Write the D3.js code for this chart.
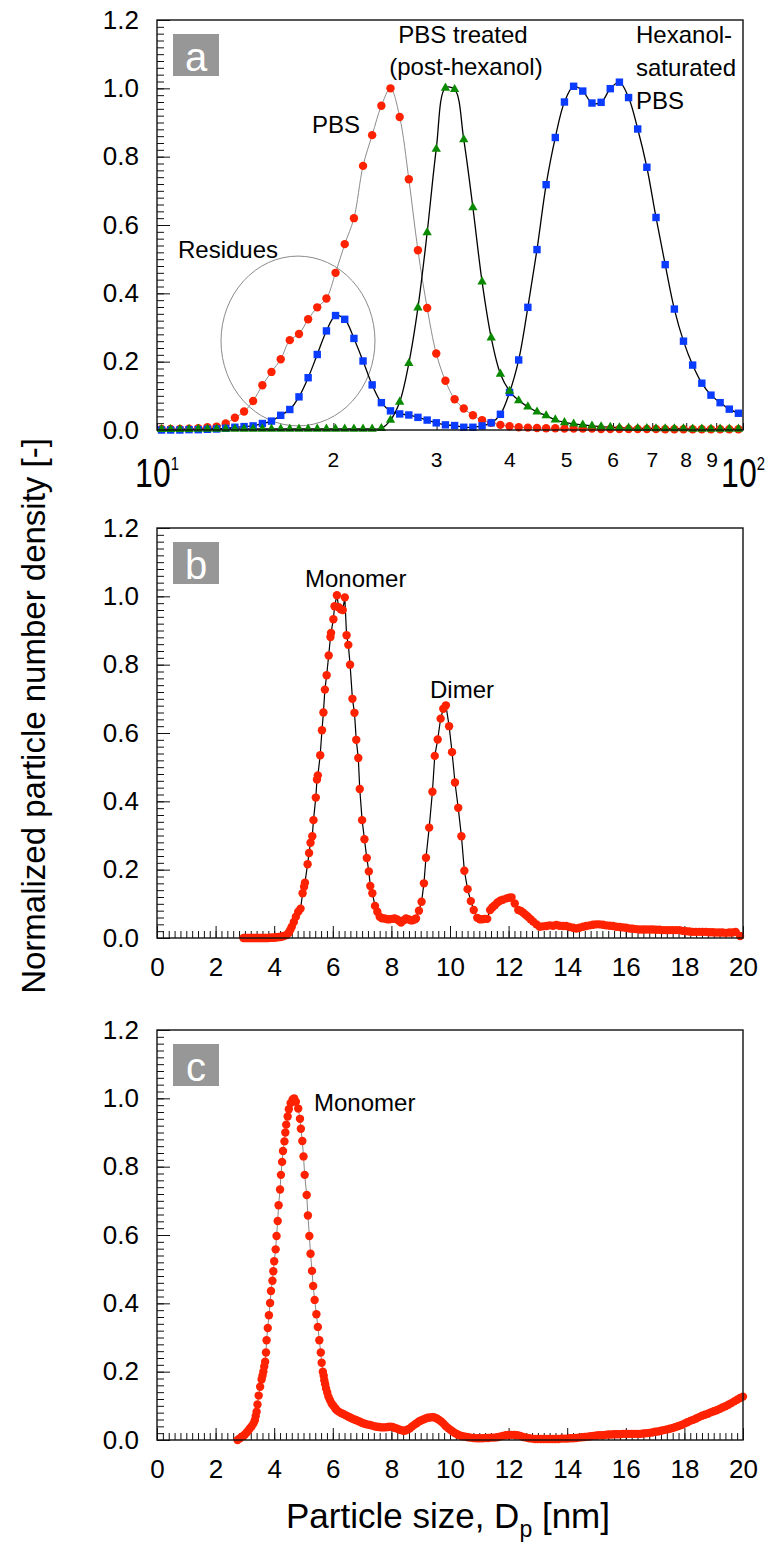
<!DOCTYPE html>
<html><head><meta charset="utf-8">
<script src="https://cdn.jsdelivr.net/npm/d3@7"></script>
<style>
body{margin:0;background:#fff}
svg{display:block}
text{font-family:"Liberation Sans",Arial,Helvetica,sans-serif;fill:#000}
</style>
</head><body>
<svg id="chart" width="772" height="1565"></svg>
<script>
// ---------------- DATA ----------------
// Panel a: SMPS channel diameters (nm) shared by all three series
const sizesA = [10.18,10.55,10.94,11.34,11.76,12.19,12.64,13.10,13.58,14.08,14.59,15.13,15.68,16.26,16.85,17.47,18.11,18.77,19.46,20.17,20.91,21.68,22.47,23.29,24.15,25.03,25.95,26.90,27.88,28.91,29.96,31.06,32.20,33.38,34.60,35.87,37.18,38.55,39.96,41.42,42.94,44.51,46.14,47.83,49.58,51.40,53.28,55.24,57.26,59.36,61.53,63.79,66.12,68.54,71.05,73.66,76.36,79.15,82.05,85.06,88.17,91.40,94.75,98.22];
const pbsA = [0.003,0.003,0.003,0.004,0.005,0.008,0.010,0.019,0.036,0.054,
  0.085,0.131,0.170,0.207,0.263,0.281,0.324,0.359,0.385,0.460,
  0.544,0.620,0.773,0.863,0.949,1.000,0.916,0.734,0.526,0.357,
  0.224,0.144,0.090,0.063,0.043,0.029,0.021,0.015,0.011,0.008,
  0.007,0.006,0.005,0.005,0.004,0.004,0.004,0.004,0.003,0.003,
  0.003,0.003,0.003,0.003,0.003,0.002,0.002,0.002,0.002,0.002,
  0.002,0.002,0.002,0.002];
const hexanolA = [0.000,0.000,0.000,0.001,0.001,0.002,0.003,0.005,0.008,0.010,
  0.012,0.019,0.026,0.043,0.060,0.097,0.153,0.221,0.290,0.335,
  0.324,0.268,0.202,0.132,0.080,0.056,0.047,0.044,0.037,0.029,
  0.021,0.015,0.013,0.008,0.008,0.012,0.021,0.046,0.110,0.205,
  0.359,0.528,0.718,0.856,0.960,1.006,0.992,0.957,0.959,0.999,
  1.018,0.973,0.881,0.769,0.622,0.484,0.354,0.260,0.190,0.137,
  0.102,0.080,0.061,0.049];
const treatedA = [0.002,0.002,0.002,0.002,0.003,0.003,0.003,0.003,0.003,0.003,
  0.003,0.003,0.003,0.003,0.003,0.003,0.003,0.003,0.003,0.003,
  0.003,0.003,0.003,0.003,0.005,0.029,0.082,0.195,0.358,0.578,
  0.822,1.001,0.997,0.850,0.651,0.434,0.270,0.164,0.114,0.086,
  0.068,0.053,0.042,0.030,0.022,0.018,0.015,0.012,0.010,0.008,
  0.007,0.006,0.005,0.005,0.004,0.004,0.004,0.004,0.003,0.003,
  0.003,0.003,0.003,0.003];

// Panel b: [diameter nm, normalized density]
const panelB = [[2.95,0],[3.00,0],[3.05,0],[3.10,0],[3.15,0],[3.20,0],[3.25,0],[3.30,0],[3.35,0],[3.40,0],
 [3.45,0],[3.50,0],[3.55,0],[3.60,0],[3.65,0],[3.70,0],[3.75,0],[3.80,0],[3.85,0.001],[3.90,0.001],
 [3.95,0.001],[4.00,0.001],[4.05,0.002],[4.10,0.002],[4.15,0.003],[4.20,0.003],[4.25,0.004],[4.30,0.005],[4.36,0.007],
 [4.43,0.009],[4.50,0.016],[4.55,0.024],[4.60,0.033],[4.67,0.047],[4.74,0.062],[4.82,0.077],[4.90,0.086],[4.97,0.131],[5.02,0.150],
 [5.05,0.162],[5.14,0.216],[5.19,0.249],[5.24,0.279],[5.30,0.298],[5.34,0.345],[5.42,0.411],[5.46,0.464],[5.49,0.476],[5.57,0.535],
 [5.63,0.608],[5.68,0.660],[5.73,0.727],[5.79,0.769],[5.86,0.827],[5.92,0.881],[5.94,0.893],[6.02,0.933],[6.06,0.971],[6.14,1.003],
 [6.20,0.968],[6.27,0.962],[6.34,0.960],[6.41,0.997],[6.47,0.886],[6.53,0.858],[6.59,0.800],[6.67,0.700],[6.74,0.659],[6.80,0.580],
 [6.87,0.527],[6.92,0.436],[7.00,0.345],[7.08,0.289],[7.16,0.234],[7.23,0.195],[7.28,0.152],[7.35,0.131],[7.44,0.094],[7.52,0.077],
 [7.60,0.062],[7.68,0.058],[7.77,0.057],[7.86,0.055],[7.94,0.055],[8.03,0.056],[8.11,0.057],[8.20,0.054],[8.27,0.050],[8.33,0.045],
 [8.42,0.052],[8.50,0.057],[8.58,0.055],[8.66,0.052],[8.72,0.052],[8.80,0.055],[8.84,0.057],[8.94,0.080],[9.03,0.106],[9.11,0.160],
 [9.18,0.235],[9.29,0.323],[9.40,0.428],[9.48,0.533],[9.58,0.581],[9.68,0.642],[9.77,0.671],[9.86,0.681],[9.97,0.620],[10.07,0.544],
 [10.17,0.455],[10.28,0.381],[10.39,0.298],[10.49,0.197],[10.60,0.143],[10.71,0.108],[10.81,0.082],[10.93,0.059],[11.02,0.055],[11.10,0.055],
 [11.18,0.056],[11.27,0.056],[11.37,0.082],[11.45,0.090],[11.53,0.096],[11.62,0.104],[11.71,0.109],[11.80,0.112],[11.93,0.116],[12.02,0.118],
 [12.10,0.119],[12.21,0.101],[12.33,0.082],[12.42,0.079],[12.50,0.074],[12.58,0.068],[12.66,0.062],[12.75,0.055],[12.84,0.048],[12.95,0.040],
 [13.06,0.033],[13.17,0.034],[13.29,0.035],[13.40,0.037],[13.52,0.036],[13.63,0.038],[13.74,0.036],[13.86,0.035],[13.97,0.035],[14.08,0.032],
 [14.20,0.030],[14.31,0.028],[14.42,0.030],[14.54,0.033],[14.65,0.035],[14.77,0.037],[14.88,0.039],[14.99,0.040],[15.10,0.040],[15.22,0.039],
 [15.33,0.037],[15.45,0.036],[15.56,0.035],[15.67,0.033],[15.79,0.032],[15.90,0.031],[16.01,0.030],[16.13,0.028],[16.24,0.027],[16.35,0.026],
 [16.47,0.025],[16.58,0.025],[16.69,0.025],[16.81,0.025],[16.92,0.025],[17.03,0.024],[17.15,0.024],[17.26,0.023],[17.37,0.023],[17.49,0.023],
 [17.60,0.023],[17.71,0.023],[17.83,0.023],[17.94,0.021],[18.05,0.020],[18.17,0.019],[18.28,0.018],[18.39,0.018],[18.51,0.018],[18.62,0.018],
 [18.73,0.018],[18.85,0.017],[18.96,0.017],[19.07,0.016],[19.19,0.016],[19.30,0.016],[19.41,0.015],[19.53,0.016],[19.64,0.016],[19.75,0.018],
 [19.90,0.006]];

// Panel c: [diameter nm, normalized density]
const panelC = [[2.75,0.000],[2.83,0.005],[2.90,0.010],[2.95,0.012],[3.00,0.016],[3.06,0.022],[3.12,0.028],[3.17,0.034],[3.23,0.040],[3.29,0.048],
 [3.34,0.058],[3.37,0.070],[3.40,0.083],[3.43,0.104],[3.47,0.130],[3.52,0.156],[3.57,0.177],[3.60,0.188],[3.63,0.200],[3.66,0.215],
 [3.69,0.229],[3.72,0.256],[3.74,0.292],[3.78,0.328],[3.82,0.365],[3.86,0.401],[3.89,0.436],[3.94,0.466],[3.97,0.494],[4.00,0.523],
 [4.05,0.558],[4.08,0.597],[4.12,0.641],[4.15,0.687],[4.20,0.733],[4.23,0.776],[4.27,0.814],[4.30,0.846],[4.35,0.874],[4.38,0.900],
 [4.41,0.923],[4.46,0.947],[4.50,0.968],[4.56,0.986],[4.63,0.997],[4.68,1.000],[4.74,0.990],[4.82,0.970],[4.88,0.940],[4.91,0.911],
 [4.96,0.875],[5.00,0.830],[5.04,0.776],[5.11,0.717],[5.15,0.657],[5.20,0.597],[5.24,0.545],[5.29,0.495],[5.33,0.451],[5.38,0.410],
 [5.44,0.368],[5.49,0.331],[5.54,0.292],[5.59,0.256],[5.62,0.226],[5.66,0.200],[5.69,0.188],[5.71,0.175],[5.74,0.163],[5.77,0.151],
 [5.81,0.139],[5.85,0.127],[5.90,0.117],[5.96,0.107],[6.02,0.100],[6.08,0.093],[6.13,0.088],[6.20,0.083],[6.28,0.079],[6.36,0.076],
 [6.45,0.072],[6.52,0.069],[6.59,0.066],[6.66,0.063],[6.74,0.060],[6.81,0.058],[6.89,0.055],[6.96,0.052],[7.04,0.049],[7.12,0.047],
 [7.20,0.045],[7.27,0.044],[7.35,0.042],[7.43,0.040],[7.50,0.039],[7.58,0.038],[7.65,0.037],[7.72,0.037],[7.80,0.037],[7.87,0.038],
 [7.95,0.039],[8.03,0.038],[8.10,0.036],[8.18,0.034],[8.26,0.031],[8.33,0.029],[8.41,0.027],[8.48,0.028],[8.56,0.031],[8.63,0.034],
 [8.71,0.040],[8.79,0.045],[8.86,0.049],[8.94,0.054],[9.01,0.057],[9.09,0.060],[9.17,0.063],[9.24,0.065],[9.32,0.066],[9.40,0.067],
 [9.47,0.066],[9.55,0.063],[9.62,0.059],[9.70,0.054],[9.78,0.048],[9.85,0.041],[9.93,0.035],[10.01,0.030],[10.09,0.025],[10.18,0.020],
 [10.26,0.016],[10.34,0.013],[10.43,0.011],[10.52,0.010],[10.61,0.008],[10.70,0.007],[10.80,0.006],[10.90,0.005],[11.00,0.005],[11.10,0.005],
 [11.20,0.006],[11.30,0.006],[11.40,0.007],[11.50,0.007],[11.60,0.008],[11.70,0.010],[11.80,0.012],[11.90,0.014],[12.00,0.015],[12.10,0.015],
 [12.20,0.015],[12.30,0.014],[12.40,0.012],[12.50,0.009],[12.60,0.007],[12.70,0.005],[12.80,0.004],[12.90,0.003],[13.00,0.003],[13.10,0.003],
 [13.20,0.003],[13.30,0.003],[13.40,0.003],[13.50,0.003],[13.60,0.003],[13.70,0.003],[13.80,0.004],[13.90,0.004],[14.00,0.004],[14.10,0.005],
 [14.20,0.005],[14.30,0.006],[14.40,0.007],[14.50,0.008],[14.60,0.009],[14.70,0.010],[14.80,0.011],[14.90,0.012],[15.00,0.013],[15.10,0.014],
 [15.20,0.014],[15.30,0.015],[15.40,0.016],[15.50,0.016],[15.60,0.017],[15.70,0.017],[15.80,0.017],[15.90,0.018],[16.00,0.018],[16.10,0.018],
 [16.20,0.018],[16.30,0.018],[16.40,0.018],[16.50,0.018],[16.60,0.019],[16.70,0.020],[16.80,0.021],[16.90,0.022],[17.00,0.024],[17.10,0.025],
 [17.20,0.027],[17.30,0.029],[17.40,0.031],[17.50,0.033],[17.60,0.035],[17.70,0.038],[17.80,0.041],[17.90,0.044],[18.00,0.048],[18.10,0.052],
 [18.20,0.056],[18.30,0.059],[18.40,0.063],[18.50,0.067],[18.60,0.071],[18.70,0.074],[18.80,0.077],[18.90,0.081],[19.00,0.084],[19.10,0.087],
 [19.20,0.091],[19.30,0.095],[19.40,0.099],[19.50,0.103],[19.60,0.108],[19.70,0.113],[19.80,0.118],[19.90,0.123],[20.00,0.127]];

// Ticks and labels
const yTicks = [0,0.2,0.4,0.6,0.8,1.0,1.2];
const yTickLabels = ["0.0","0.2","0.4","0.6","0.8","1.0","1.2"];
const xTicksLin = [0,2,4,6,8,10,12,14,16,18,20];
const xTickLabelsLin = ["0","2","4","6","8","10","12","14","16","18","20"];
const xTicksLog = [10,20,30,40,50,60,70,80,90,100];
const xTickLabelsLog = ["10|1","2","3","4","5","6","7","8","9","10|2"];

// ---------------- LAYOUT ----------------
const svg = d3.select("#chart");
const L = 157, R = 743;
const P = {a:{top:20,bottom:430}, b:{top:528,bottom:938}, c:{top:1030,bottom:1440}};
const RED = "#ff2200", BLUE = "#0a3cff", GREEN = "#0a8a00";
const FONT = "\"Liberation Sans\",Arial,sans-serif";

function yScale(p){ return d3.scaleLinear().domain([0,1.2]).range([p.bottom,p.top]); }

function drawYAxis(p, y){
  const minor = d3.range(0, 1.2001, 0.02);
  svg.append("g").attr("transform",`translate(${L},0)`)
    .call(d3.axisLeft(y).tickValues(minor).tickSize(-7).tickFormat(""))
    .call(g=>g.select(".domain").remove())
    .call(g=>g.selectAll("line").attr("stroke","#111"));
  svg.append("g").attr("transform",`translate(${L},0)`)
    .call(d3.axisLeft(y).tickValues(yTicks).tickSize(-13).tickPadding(18).tickFormat((d,i)=>yTickLabels[i]))
    .call(g=>g.select(".domain").remove())
    .call(g=>g.selectAll("line").attr("stroke","#111"))
    .call(g=>g.selectAll("text").attr("font-family",FONT).attr("font-size",26).attr("fill","#000"));
}
function frame(p){
  svg.append("rect").attr("x",L).attr("y",p.top).attr("width",R-L).attr("height",p.bottom-p.top)
    .attr("fill","none").attr("stroke","#111").attr("stroke-width",1.4);
}
function panelTag(p, letter){
  const g = svg.append("g");
  g.append("rect").attr("x",173).attr("y",p.top+14).attr("width",46).attr("height",42).attr("fill","#979797");
  g.append("text").attr("x",196).attr("y",p.top+51).attr("text-anchor","middle")
    .attr("font-size",40).attr("fill","#fff").style("fill","#fff").text(letter);
}
function note(x,y,txt,anchor){
  svg.append("text").attr("x",x).attr("y",y).attr("text-anchor",anchor||"start")
    .attr("font-size",24).text(txt);
}

// ---------------- PANEL A ----------------
{
  const p = P.a;
  const x = d3.scaleLog().domain([10,100]).range([L,R]);
  const y = yScale(p);
  drawYAxis(p,y);
  svg.append("g").attr("transform",`translate(0,${p.bottom})`)
    .call(d3.axisBottom(x).tickValues(xTicksLog).tickSize(-7).tickFormat(""))
    .call(g=>g.select(".domain").remove())
    .call(g=>g.selectAll("line").attr("stroke","#111"));
  // tick labels (decades with superscript, in one condensed text element)
  xTicksLog.forEach((v,i)=>{
    const lab = xTickLabelsLog[i];
    if (lab.includes("|")) {
      const [base,exp] = lab.split("|");
      const t = svg.append("text").attr("transform",`translate(${x(v)},${p.bottom+57}) scale(0.78,1)`)
        .attr("text-anchor","middle").attr("font-size",41);
      t.append("tspan").text(base);
      t.append("tspan").attr("font-size",19).attr("dy",-17).text(exp);
    } else {
      const dx = (v===90)? -4 : 0;
      svg.append("text").attr("x",x(v)+dx).attr("y",p.bottom+37).attr("text-anchor","middle")
        .attr("font-size",21).text(lab);
    }
  });
  const pts = (vals)=>vals.map((v,i)=>[sizesA[i],v]);
  const line = d3.line().x(d=>x(d[0])).y(d=>y(d[1])).curve(d3.curveCatmullRom.alpha(0.5));
  // residues ellipse (data-space bounds)
  const ex0=x(12.86), ex1=x(23.55), ey0=y(0.509), ey1=y(0.012);
  svg.append("ellipse").attr("cx",(ex0+ex1)/2).attr("cy",(ey0+ey1)/2)
    .attr("rx",(ex1-ex0)/2).attr("ry",(ey1-ey0)/2)
    .attr("fill","none").attr("stroke","#8a8a8a").attr("stroke-width",1);
  svg.append("path").datum(pts(pbsA)).attr("d",line).attr("fill","none").attr("stroke","#8c8c8c").attr("stroke-width",1);
  svg.append("path").datum(pts(hexanolA)).attr("d",line).attr("fill","none").attr("stroke","#000").attr("stroke-width",1.3);
  svg.append("path").datum(pts(treatedA)).attr("d",line).attr("fill","none").attr("stroke","#000").attr("stroke-width",1.3);
  svg.append("g").selectAll("circle").data(pts(pbsA)).join("circle")
    .attr("cx",d=>x(d[0])).attr("cy",d=>y(d[1])).attr("r",4.2).attr("fill",RED);
  svg.append("g").selectAll("path").data(pts(hexanolA)).join("path")
    .attr("transform",d=>`translate(${x(d[0])},${y(d[1])})`)
    .attr("d",d3.symbol(d3.symbolSquare,55)).attr("fill",BLUE);
  svg.append("g").selectAll("path").data(pts(treatedA)).join("path")
    .attr("transform",d=>`translate(${x(d[0])},${y(d[1])})`)
    .attr("d",d3.symbol(d3.symbolTriangle,38)).attr("fill",GREEN);
  frame(p);
  panelTag(p,"a");
  note(178,258,"Residues");
  note(312,133,"PBS");
  note(463,43,"PBS treated","middle");
  note(466,75,"(post-hexanol)","middle");
  note(636,43,"Hexanol-");
  note(636,76,"saturated");
  note(636,109,"PBS");
}

// ---------------- PANELS B & C ----------------
function linearPanel(p, data, lineColor, lineWidth, letter){
  const x = d3.scaleLinear().domain([0,20]).range([L,R]);
  const y = yScale(p);
  drawYAxis(p,y);
  svg.append("g").attr("transform",`translate(0,${p.bottom})`)
    .call(d3.axisBottom(x).tickValues(d3.range(0,20.001,0.2)).tickSize(-7).tickFormat(""))
    .call(g=>g.select(".domain").remove())
    .call(g=>g.selectAll("line").attr("stroke","#111"));
  svg.append("g").attr("transform",`translate(0,${p.bottom})`)
    .call(d3.axisBottom(x).tickValues(xTicksLin).tickSize(-12).tickPadding(20).tickFormat((d,i)=>xTickLabelsLin[i]))
    .call(g=>g.select(".domain").remove())
    .call(g=>g.selectAll("line").attr("stroke","#111"))
    .call(g=>g.selectAll("text").attr("font-family",FONT).attr("font-size",26).attr("fill","#000"));
  const line = d3.line().x(d=>x(d[0])).y(d=>y(d[1]));
  svg.append("path").datum(data).attr("d",line).attr("fill","none").attr("stroke",lineColor).attr("stroke-width",lineWidth);
  svg.append("g").selectAll("circle").data(data).join("circle")
    .attr("cx",d=>x(d[0])).attr("cy",d=>y(d[1])).attr("r",4.2).attr("fill",RED);
  frame(p);
  panelTag(p,letter);
}
linearPanel(P.b, panelB, "#000", 1.2, "b");
note(305,587,"Monomer");
note(430,698,"Dimer");
linearPanel(P.c, panelC, "#888", 1, "c");
note(314,1111,"Monomer");

// ---------------- AXIS TITLES ----------------
svg.append("text").attr("transform","translate(45,716) rotate(-90)").attr("text-anchor","middle")
  .attr("font-size",33).text("Normalized particle number density [-]");
const xt = svg.append("text").attr("x",448).attr("y",1528).attr("text-anchor","middle").attr("font-size",35);
xt.append("tspan").text("Particle size, D");
xt.append("tspan").attr("dy",9).attr("font-size",23).text("p");
xt.append("tspan").attr("dy",-9).text(" [nm]");
</script>
</body></html>
